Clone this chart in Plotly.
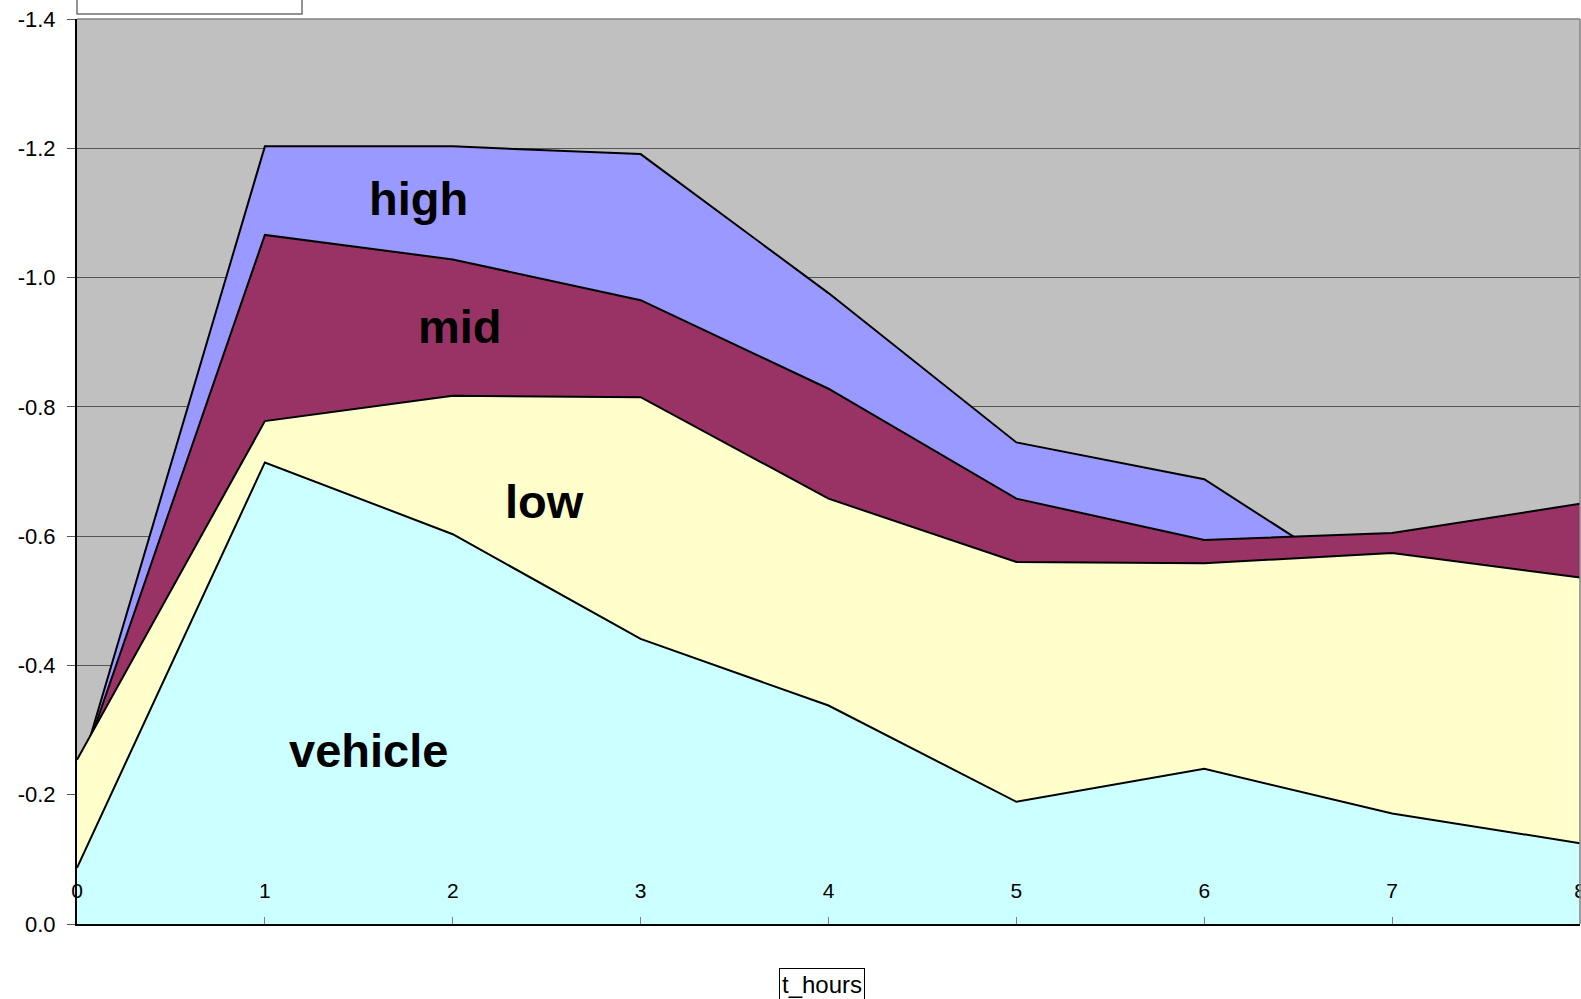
import numpy as np
import plotly.graph_objects as go

hours = [0, 1, 2, 3, 4, 5, 6, 7, 8]
vehicle = [-0.087, -0.714, -0.603, -0.441, -0.338, -0.189, -0.240, -0.171, -0.125]
low = [-0.167, -0.064, -0.214, -0.374, -0.320, -0.371, -0.318, -0.403, -0.411]
mid = [0.029, -0.288, -0.211, -0.150, -0.170, -0.098, -0.036, -0.031, -0.114]
high = [0.005, -0.137, -0.175, -0.226, -0.148, -0.087, -0.094, 0.104, 0.070]

series_names = ["vehicle", "low", "mid", "high"]
series_values = [vehicle, low, mid, high]
series_colors = ["#CCFFFF", "#FFFFCC", "#993366", "#9999FF"]

y_tickvals = [0.0, -0.2, -0.4, -0.6, -0.8, -1.0, -1.2, -1.4]
y_ticktext = ["0.0", "-0.2", "-0.4", "-0.6", "-0.8", "-1.0", "-1.2", "-1.4"]

# label placement (data coords)
label_pos = {"vehicle": (1.55, -0.269), "low": (2.49, -0.654),
             "mid": (2.04, -0.925), "high": (1.82, -1.123)}

cum = np.cumsum(np.array(series_values), axis=0)

FONT = "Liberation Sans, Arial, sans-serif"

fig = go.Figure()
# draw top series first, so lower series cover them (Excel-like drawing order)
for i in reversed(range(len(series_names))):
    fig.add_trace(go.Scatter(
        x=hours, y=cum[i], mode="lines", fill="tozeroy",
        fillcolor=series_colors[i], line=dict(color="black", width=2),
        name=series_names[i], hoverinfo="skip", showlegend=False))

# invisible trace that carries the category-label axis drawn inside the plot
fig.add_trace(go.Scatter(x=hours, y=cum[0], xaxis="x2", mode="none",
                         hoverinfo="skip", showlegend=False))

for name, (lx, ly) in label_pos.items():
    fig.add_annotation(x=lx, y=ly, text="<b>" + name + "</b>", showarrow=False,
                       font=dict(family=FONT, size=47, color="black"),
                       xanchor="center", yanchor="middle")

# axis title box
fig.add_annotation(xref="paper", yref="paper", x=(822 - 77) / 1503, y=-0.067,
                   text="t_hours", showarrow=False, xanchor="center", yanchor="middle",
                   font=dict(family=FONT, size=24, color="black"),
                   bordercolor="black", borderwidth=1, borderpad=2, bgcolor="white")

# partially visible title box at top-left
fig.add_shape(type="rect", xref="paper", yref="paper",
              x0=0.0, x1=(302 - 77) / 1503, y0=1 + 5 / 905, y1=1.2,
              line=dict(color="#707070", width=1.5), fillcolor="white", layer="above")
# plot area border (top and right)
fig.add_shape(type="line", xref="paper", yref="paper", x0=0, x1=1, y0=1, y1=1,
              line=dict(color="#808080", width=1.5), layer="above")
fig.add_shape(type="line", xref="paper", yref="paper", x0=1, x1=1, y0=0, y1=1,
              line=dict(color="#808080", width=1.5), layer="above")

fig.update_layout(
    width=1581, height=999, autosize=False,
    margin=dict(l=77, r=1, t=19, b=75),
    paper_bgcolor="white", plot_bgcolor="#C0C0C0",
    font=dict(family=FONT, size=21, color="black"),
    showlegend=False,
    xaxis=dict(range=[0, 8], tickvals=hours, showticklabels=False,
               showgrid=False, zeroline=False, showline=True, linecolor="black",
               linewidth=2, ticks="inside", ticklen=7, tickcolor="#808080",
               automargin=False),
    xaxis2=dict(range=[0, 8], tickvals=hours, ticktext=[str(h) for h in hours],
                overlaying="x", anchor="free", position=0.053, side="bottom",
                showgrid=False, zeroline=False, showline=False, ticks="",
                ticklabeloverflow="allow",
                tickfont=dict(family=FONT, size=21, color="black"),
                automargin=False),
    yaxis=dict(range=[0, -1.4], tickvals=y_tickvals, ticktext=y_ticktext,
               showgrid=True, gridcolor="#555555", gridwidth=1, zeroline=False,
               showline=True, linecolor="black", linewidth=2, ticks="outside",
               ticklen=8, tickcolor="#555555", ticklabelstandoff=7,
               tickfont=dict(family=FONT, size=22, color="black"),
               automargin=False),
)

fig.write_html("out.html", config={"responsive": False, "displayModeBar": False},
               post_script="document.body.style.margin='0px';"
                           "document.body.style.overflow='hidden';")
